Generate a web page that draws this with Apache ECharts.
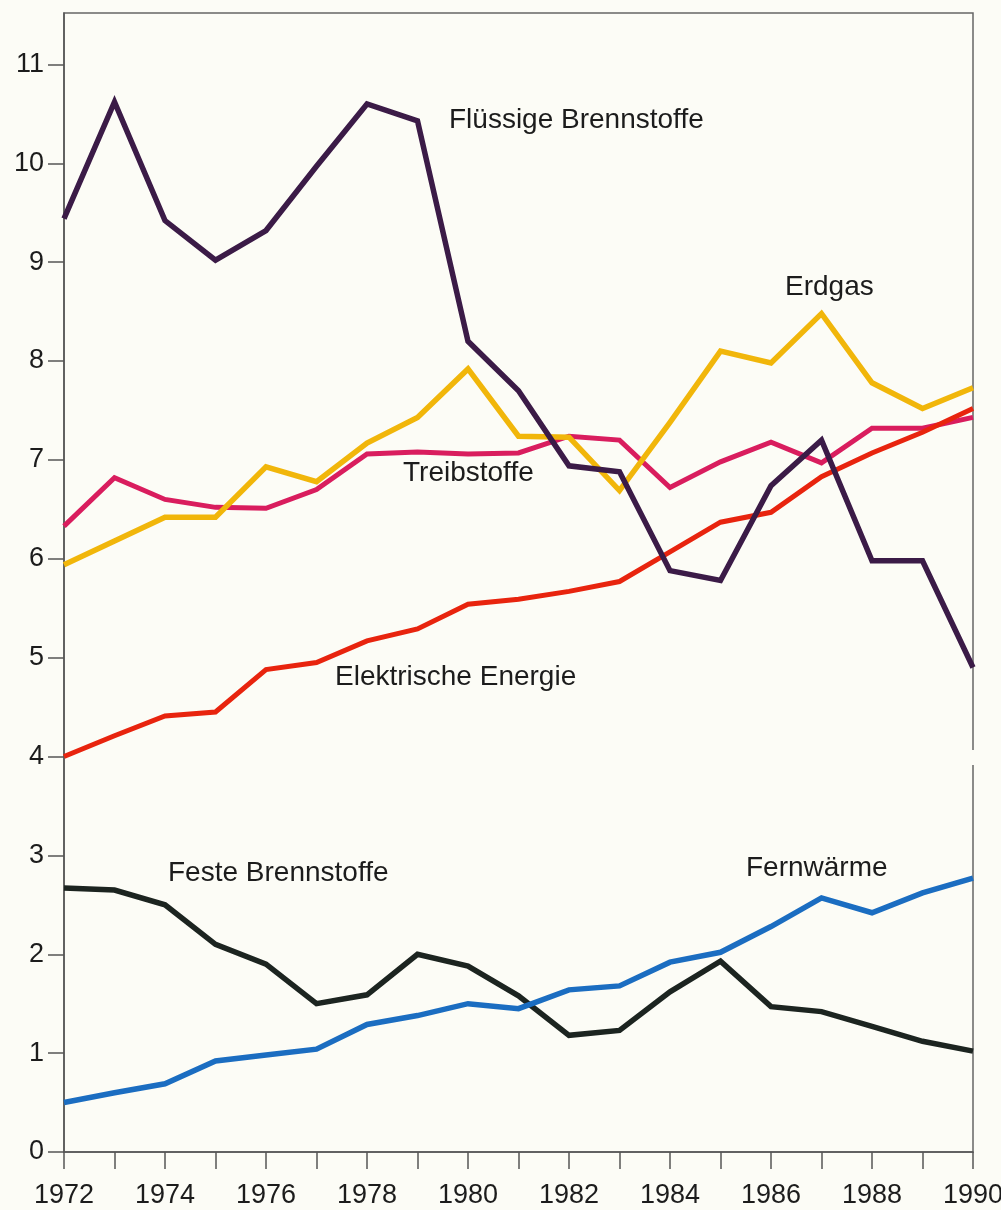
<!DOCTYPE html>
<html>
<head>
<meta charset="utf-8">
<script src="https://cdn.jsdelivr.net/npm/echarts@6/dist/echarts.min.js"></script>
<style>
  html, body { margin: 0; padding: 0; background: #fcfcf6; }
  #chart { width: 1001px; height: 1210px; }
</style>
</head>
<body>
<div id="chart"></div>
<script>
const years = ['1972','1973','1974','1975','1976','1977','1978','1979','1980','1981','1982','1983','1984','1985','1986','1987','1988','1989','1990'];
const yTicks = [0,1,2,3,4,5,6,7,8,9,10,11];

const fluessige = [9.44,10.62,9.42,9.02,9.32,9.97,10.6,10.43,8.2,7.7,6.94,6.88,5.88,5.78,6.74,7.2,5.98,5.98,4.9];
const erdgas    = [5.94,6.18,6.42,6.42,6.93,6.78,7.17,7.43,7.92,7.24,7.23,6.69,7.38,8.1,7.98,8.48,7.78,7.52,7.73];
const treib     = [6.33,6.82,6.6,6.52,6.51,6.7,7.06,7.08,7.06,7.07,7.24,7.2,6.72,6.98,7.18,6.97,7.32,7.32,7.43];
const elektr    = [4.0,4.21,4.41,4.45,4.88,4.95,5.17,5.29,5.54,5.59,5.67,5.77,6.07,6.37,6.47,6.83,7.07,7.28,7.52];
const feste     = [2.67,2.65,2.5,2.1,1.9,1.5,1.59,2.0,1.88,1.58,1.18,1.23,1.62,1.93,1.47,1.42,1.27,1.12,1.02];
const fernw     = [0.5,0.6,0.69,0.92,0.98,1.04,1.29,1.38,1.5,1.45,1.64,1.68,1.92,2.02,2.28,2.57,2.42,2.62,2.77];

const FONT = '"Liberation Sans", Arial, Helvetica, sans-serif';
const TXT = '#1c1c1c';

function line(name, data, color, width, z) {
  return {
    name, type: 'line', data, symbol: 'none', z: z || 2,
    lineStyle: { color, width: width || 5.5, join: 'miter', cap: 'butt' },
    emphasis: { disabled: true }
  };
}

function label(text, x, y) {
  return {
    type: 'text', left: x, top: y - 15, z: 100,
    style: { text, fill: TXT, font: '28px ' + FONT }
  };
}

const chart = echarts.init(document.getElementById('chart'), null, { renderer: 'canvas' });
chart.setOption({
  backgroundColor: '#fcfcf6',
  animation: false,
  grid: {
    left: 64, right: 28, top: 13, bottom: 58,
    outerBoundsMode: 'none', containLabel: false,
    show: true, borderColor: '#666', borderWidth: 1.5, backgroundColor: 'transparent'
  },
  xAxis: {
    type: 'category', data: years, boundaryGap: false,
    axisLine: { lineStyle: { color: '#555', width: 1.5 } },
    axisTick: { show: true, interval: 0, length: 17, lineStyle: { color: '#555', width: 1.5 } },
    axisLabel: { interval: 1, margin: 30, color: TXT, fontSize: 27, fontFamily: FONT, hideOverlap: false },
    splitLine: { show: false }
  },
  yAxis: {
    type: 'value', min: 0, max: 11.52,
    axisLine: { show: true, lineStyle: { color: '#555', width: 1.5 } },
    axisTick: { show: true, length: 16, customValues: yTicks, lineStyle: { color: '#555', width: 1.5 } },
    axisLabel: { customValues: yTicks, margin: 20, color: TXT, fontSize: 27, fontFamily: FONT },
    splitLine: { show: false }
  },
  series: [
    line('Feste Brennstoffe', feste, '#1c2420', 5.5, 2),
    line('Fernwärme', fernw, '#1b6dc1', 5.5, 3),
    line('Treibstoffe', treib, '#d91d5e', 5, 3),
    line('Erdgas', erdgas, '#f1b60a', 5.5, 4),
    line('Elektrische Energie', elektr, '#e8240e', 5, 5),
    line('Flüssige Brennstoffe', fluessige, '#3b1b47', 5.5, 6)
  ],
  graphic: [
    label('Flüssige Brennstoffe', 449, 121),
    label('Erdgas', 785, 288),
    label('Treibstoffe', 403, 474),
    label('Elektrische Energie', 335, 678),
    label('Feste Brennstoffe', 168, 874),
    label('Fernwärme', 746, 869),
    { type: 'rect', left: 969, top: 750, z: 100, shape: { width: 8, height: 15 }, style: { fill: '#fcfcf6' } }
  ]
});
</script>
</body>
</html>
